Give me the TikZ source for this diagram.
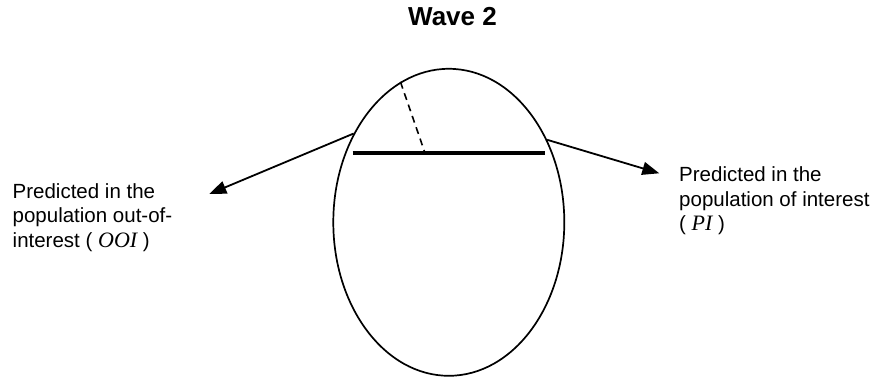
\documentclass[tikz,border=0pt]{standalone}
\usepackage{fontspec}
\setmainfont{Liberation Sans}
\newfontfamily\tmsfont{Liberation Serif}
\usetikzlibrary{shapes.geometric,arrows.meta}
\tikzset{
  lbl/.style={inner sep=0pt, align=left, anchor=north west, font=\fontsize{20.5}{24.5}\selectfont},
  outline/.style={draw, line width=1.7pt},
  pointer/.style={line width=1.8pt, -{Triangle[length=17pt,width=13pt]}},
  bar/.style={line width=4.8pt},
  split/.style={line width=1.6pt, dash pattern=on 7pt off 5pt}
}
\newcommand{\mvar}[1]{{\fontsize{22}{24.5}\selectfont\tmsfont\itshape #1}}
\begin{document}
\begin{tikzpicture}[x=1pt,y=-1pt]
\useasboundingbox (0,0) rectangle (880,379);
\node[anchor=base, inner sep=0pt, font=\fontsize{26}{30}\selectfont\bfseries] (title) at (452.5,26) {Wave 2};
\node[ellipse, outline, minimum width=231pt, minimum height=307pt, inner sep=0pt] (E) at (448.8,222.3) {};
\coordinate (barL) at (352.7,153);
\coordinate (barR) at (545,153);
\coordinate (barM) at (425,153);
\draw[bar] (barL) -- (barR);
\draw[split] (E.109) -- (barM);
\node[lbl] (left) at (12.5,183.3) {Predicted in the\\population out-of-\\interest ( \mvar{OOI} )};
\node[lbl] (right) at (679,166.7) {Predicted in the\\population of interest\\( \mvar{PI} )};
\coordinate (tipL) at (209.3,194);
\coordinate (tipR) at (659.3,173.3);
\draw[pointer] (E.137) -- (tipL);
\draw[pointer] (E.40.3) -- (tipR);
\end{tikzpicture}
\end{document}
